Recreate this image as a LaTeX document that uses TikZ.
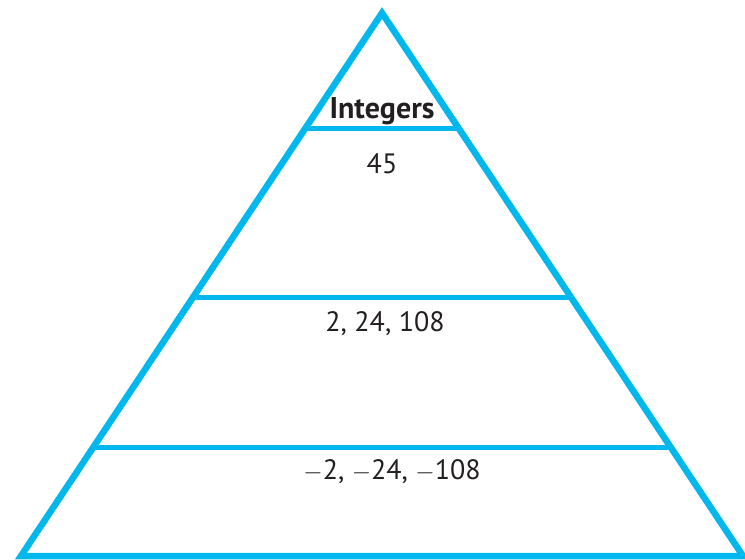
\documentclass[tikz,border=0pt]{standalone}
\usepackage{fontspec}
\setmainfont{PT Sans}
\definecolor{pyr}{RGB}{0,184,238}
\definecolor{ink}{RGB}{35,31,32}
\begin{document}
\begin{tikzpicture}[x=1pt,y=-1pt,
  outline/.style={draw=pyr,line width=6.5pt,line join=miter},
  tier/.style={draw=pyr,line width=5pt},
  lbl/.style={text=ink,font=\fontsize{28}{32}\selectfont,inner sep=0pt,anchor=base}]
\useasboundingbox (0,0) rectangle (745,560);
\coordinate (apex) at (382,13);
\coordinate (bl) at (21,556);
\coordinate (br) at (743,556);
\draw[outline] (apex) -- (bl) -- (br) -- cycle;
% tier lines
\coordinate (a1) at (305,128); \coordinate (b1) at (459,128);
\coordinate (a2) at (192,297); \coordinate (b2) at (572,297);
\coordinate (a3) at (92,447);  \coordinate (b3) at (672,447);
\draw[tier] (a1) -- (b1);
\draw[tier] (a2) -- (b2);
\draw[tier] (a3) -- (b3);
\node[lbl,font=\fontsize{30}{34}\selectfont\bfseries] (t0) at (382,118) {Integers};
\node[lbl] (t1) at (382,173) {45};
\node[lbl] (t2) at (385,331) {2, 24, 108};
\node[lbl] (t3) at (392,479) {$-$2, $-$24, $-$108};
\end{tikzpicture}
\end{document}
